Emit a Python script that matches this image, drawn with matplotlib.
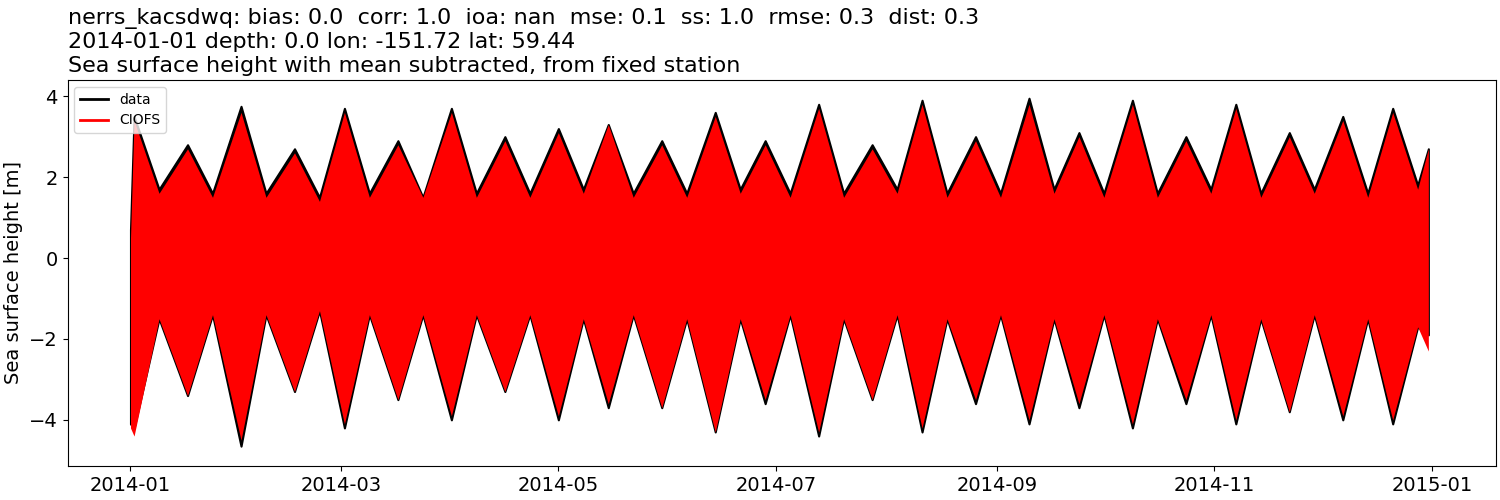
import matplotlib
matplotlib.use("Agg")
import matplotlib.pyplot as plt
import numpy as np
import pandas as pd

# envelope sample days (spring / neap alternating) and values
days = [0, 1, 8, 16, 23, 31, 38, 46, 53, 60, 67, 75, 82, 90, 97, 105, 112, 120, 127, 134,
        141, 149, 156, 164, 171, 178, 185, 193, 200, 208, 215, 222, 229, 237, 244, 252,
        259, 266, 273, 281, 288, 296, 303, 310, 317, 325, 332, 340, 347, 354, 361, 364]
data_hi = [0.7, 3.5, 1.7, 2.8, 1.6, 3.75, 1.6, 2.7, 1.5, 3.7, 1.6, 2.9, 1.5, 3.7, 1.6, 3.0, 1.6, 3.2, 1.7, 3.3,
           1.6, 2.9, 1.6, 3.6, 1.7, 2.9, 1.6, 3.8, 1.6, 2.8, 1.7, 3.9, 1.6, 3.0, 1.6, 3.95,
           1.7, 3.1, 1.6, 3.9, 1.6, 3.0, 1.7, 3.8, 1.6, 3.1, 1.7, 3.5, 1.6, 3.7, 1.8, 2.7]
data_lo = [-4.1, -4.2, -1.5, -3.4, -1.4, -4.65, -1.4, -3.3, -1.3, -4.2, -1.4, -3.5, -1.4, -4.0, -1.4, -3.3, -1.4, -4.0, -1.5, -3.7,
           -1.4, -3.7, -1.5, -4.3, -1.5, -3.6, -1.4, -4.4, -1.5, -3.5, -1.4, -4.3, -1.5, -3.6, -1.4, -4.1,
           -1.5, -3.7, -1.4, -4.2, -1.5, -3.6, -1.4, -4.1, -1.5, -3.8, -1.4, -4.0, -1.5, -4.1, -1.7, -1.9]
ciofs_hi = [0.5, 3.4, 1.6, 2.7, 1.5, 3.6, 1.5, 2.6, 1.4, 3.6, 1.5, 2.8, 1.5, 3.6, 1.5, 2.9, 1.5, 3.1, 1.6, 3.3,
            1.5, 2.8, 1.5, 3.5, 1.6, 2.8, 1.5, 3.7, 1.5, 2.7, 1.6, 3.8, 1.5, 2.9, 1.5, 3.8,
            1.6, 3.0, 1.5, 3.8, 1.5, 2.9, 1.6, 3.7, 1.5, 3.0, 1.6, 3.4, 1.5, 3.6, 1.7, 2.7]
ciofs_lo = [-4.2, -4.4, -1.5, -3.4, -1.4, -4.5, -1.4, -3.3, -1.3, -4.1, -1.4, -3.5, -1.4, -3.9, -1.4, -3.3, -1.4, -3.9, -1.5, -3.6,
            -1.4, -3.7, -1.5, -4.3, -1.5, -3.5, -1.4, -4.3, -1.5, -3.5, -1.4, -4.2, -1.5, -3.5, -1.4, -4.0,
            -1.5, -3.6, -1.4, -4.1, -1.5, -3.5, -1.4, -4.0, -1.5, -3.8, -1.4, -3.9, -1.5, -4.0, -1.7, -2.3]

t = pd.Timestamp("2014-01-01") + pd.to_timedelta(days, unit="D")

fig, ax = plt.subplots(figsize=(15, 5), dpi=100)
ax.fill_between(t, data_lo, data_hi, color="black", lw=1.5, edgecolor="black")
ax.fill_between(t, ciofs_lo, ciofs_hi, color="red", lw=0)
ax.plot([], [], color="black", lw=2, label="data")
ax.plot([], [], color="red", lw=2, label="CIOFS")
ax.legend(loc="upper left", fontsize=10)
ax.set_ylabel("Sea surface height [m]", fontsize=14)
ax.tick_params(labelsize=14)
ax.set_ylim(-5.14, 4.4)
ax.set_xlim(pd.Timestamp("2013-12-14 08:00"), pd.Timestamp("2015-01-18 20:00"))
ticks = pd.to_datetime(["2014-01-01", "2014-03-01", "2014-05-01", "2014-07-01",
                        "2014-09-01", "2014-11-01", "2015-01-01"])
ax.set_xticks(ticks)
ax.set_xticklabels([d.strftime("%Y-%m") for d in ticks])
ax.set_title("nerrs_kacsdwq: bias: 0.0  corr: 1.0  ioa: nan  mse: 0.1  ss: 1.0  rmse: 0.3  dist: 0.3\n"
             "2014-01-01 depth: 0.0 lon: -151.72 lat: 59.44\n"
             "Sea surface height with mean subtracted, from fixed station",
             loc="left", fontsize=16, linespacing=1.2)
fig.subplots_adjust(left=0.045, right=0.997, top=0.84, bottom=0.068)
fig.savefig("out.png")
